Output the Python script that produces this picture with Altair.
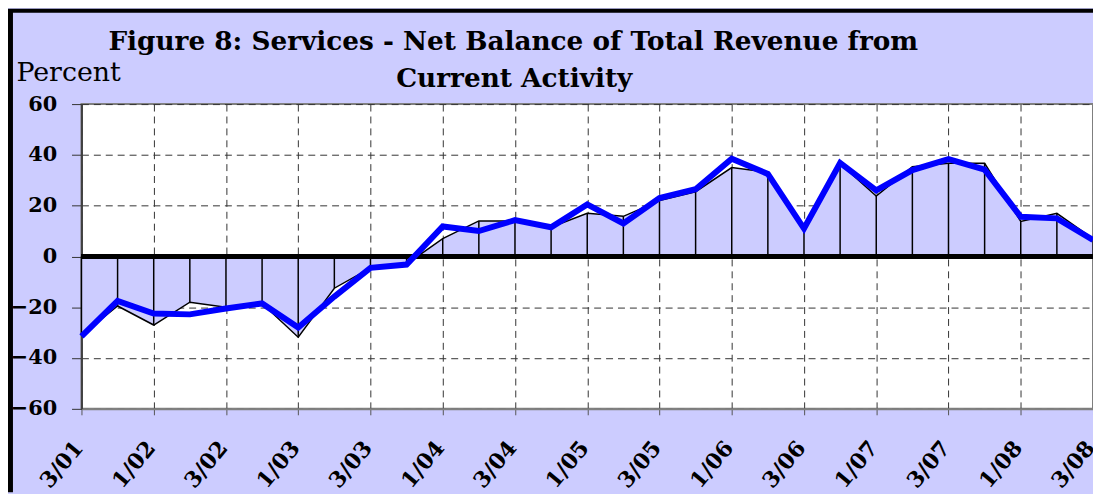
import altair as alt
import pandas as pd

quarters = ["3/01", "4/01", "1/02", "2/02", "3/02", "4/02", "1/03", "2/03", "3/03", "4/03",
            "1/04", "2/04", "3/04", "4/04", "1/05", "2/05", "3/05", "4/05", "1/06", "2/06",
            "3/06", "4/06", "1/07", "2/07", "3/07", "4/07", "1/08", "2/08", "3/08"]
actual = [-31, -19.5, -27, -18, -20, -18.5, -31.8, -12.5, -4.5, -3,
          7, 14, 14, 11.5, 17, 15.8, 22, 25.5, 35, 33.2,
          10.5, 36.5, 23.8, 35.3, 36.7, 36.7, 13.8, 17, 7]
trend = [-31.5, -17.5, -22.5, -22.8, -20.5, -18.5, -28, -15.8, -4.5, -3.2,
         11.8, 10, 14.3, 11.5, 20.5, 13, 23, 26.5, 38.5, 32.5,
         11, 36.8, 26, 34, 38.3, 34.2, 15.6, 15, 6.5]
y_ticks = [-60, -40, -20, 0, 20, 40, 60]
title_lines = ["Figure 8: Services - Net Balance of Total Revenue from", "Current Activity"]

df = pd.DataFrame({"i": list(range(len(quarters))), "q": quarters,
                   "actual": actual, "trend": trend})
tick_idx = list(range(0, len(quarters), 2))
label_js = "[" + ",".join("'" + q + "'" for q in quarters) + "][datum.value]"

BG = "#CCCCFF"
W, H = 1019, 307

xscale = alt.Scale(domain=[0, len(quarters) - 1], nice=False, zero=False)
xenc = alt.X("i:Q", scale=xscale,
             axis=alt.Axis(values=tick_idx, labelExpr=label_js, title=None, labelAngle=-50,
                           labelAlign="right", labelBaseline="middle",
                           labelFont="DejaVu Serif", labelFontWeight="bold",
                           labelFontSize=22, labelColor="black", labelPadding=29,
                           labelOffset=-3, labelOverlap=False, labelBound=False,
                           labelFlush=False,
                           tickSize=6, tickColor="#555555", domainColor="#808080",
                           domainWidth=2, grid=True, gridColor="#333333",
                           gridDash=[7, 5], gridWidth=1))
xplain = alt.X("i:Q", scale=xscale)
yscale = alt.Scale(domain=[-60, 60], nice=False)
yaxis = alt.Axis(values=y_ticks, title="Percent", titleAngle=0, titleX=-66, titleY=-24,
                 titleAlign="left", titleBaseline="alphabetic", titleFont="DejaVu Serif",
                 titleFontWeight="normal", titleFontSize=27, titleColor="black",
                 labelFont="DejaVu Serif", labelFontWeight="bold", labelFontSize=21,
                 labelColor="black", labelPadding=15, tickSize=10, tickColor="#333333",
                 domainColor="#404040", domainWidth=2, grid=True, gridColor="#333333",
                 gridDash=[7, 5], gridWidth=1, labelFlush=False)

base = alt.Chart(df)

area = base.mark_area(fill=BG, opacity=1, fillOpacity=1,
                      line=alt.OverlayMarkDef(color="black", strokeWidth=1.5)).encode(
    x=xenc, y=alt.Y("actual:Q", scale=yscale, axis=yaxis))
drops = base.mark_rule(color="black", strokeWidth=1.5).encode(
    x=xplain, y="actual:Q", y2=alt.datum(0))
zero = base.mark_rule(color="black", strokeWidth=3.5).encode(y=alt.datum(0))
line = base.mark_line(color="#0000FF", strokeWidth=6).encode(x=xplain, y="trend:Q")

deco = alt.Chart(alt.Data(values=[{"a": 1}]))
left_border = deco.mark_rule(color="black", strokeWidth=5).encode(
    x=alt.value(-71.5), y=alt.value(-95), y2=alt.value(H + 84))
top_border = deco.mark_rule(color="black", strokeWidth=4).encode(
    x=alt.value(-74), x2=alt.value(W), y=alt.value(-94))

title1 = deco.mark_text(font="DejaVu Serif", fontSize=26.5, fontWeight="bold", color="black",
                        align="center", baseline="alphabetic").encode(
    x=alt.value(435), y=alt.value(-54), text=alt.value(title_lines[0]))
title2 = deco.mark_text(font="DejaVu Serif", fontSize=26.5, fontWeight="bold", color="black",
                        align="center", baseline="alphabetic").encode(
    x=alt.value(436), y=alt.value(-17), text=alt.value(title_lines[1]))

chart = alt.layer(area, drops, zero, line, left_border, top_border, title1, title2).properties(
    width=W, height=H,
    padding={"left": 74, "top": 95, "right": 0, "bottom": 84},
    autosize=alt.AutoSizeParams(type="none"),
).configure(background=BG).configure_view(fill="white", stroke="#808080", strokeWidth=2)

chart.save("out.html", embed_options={"renderer": "svg", "actions": False})
